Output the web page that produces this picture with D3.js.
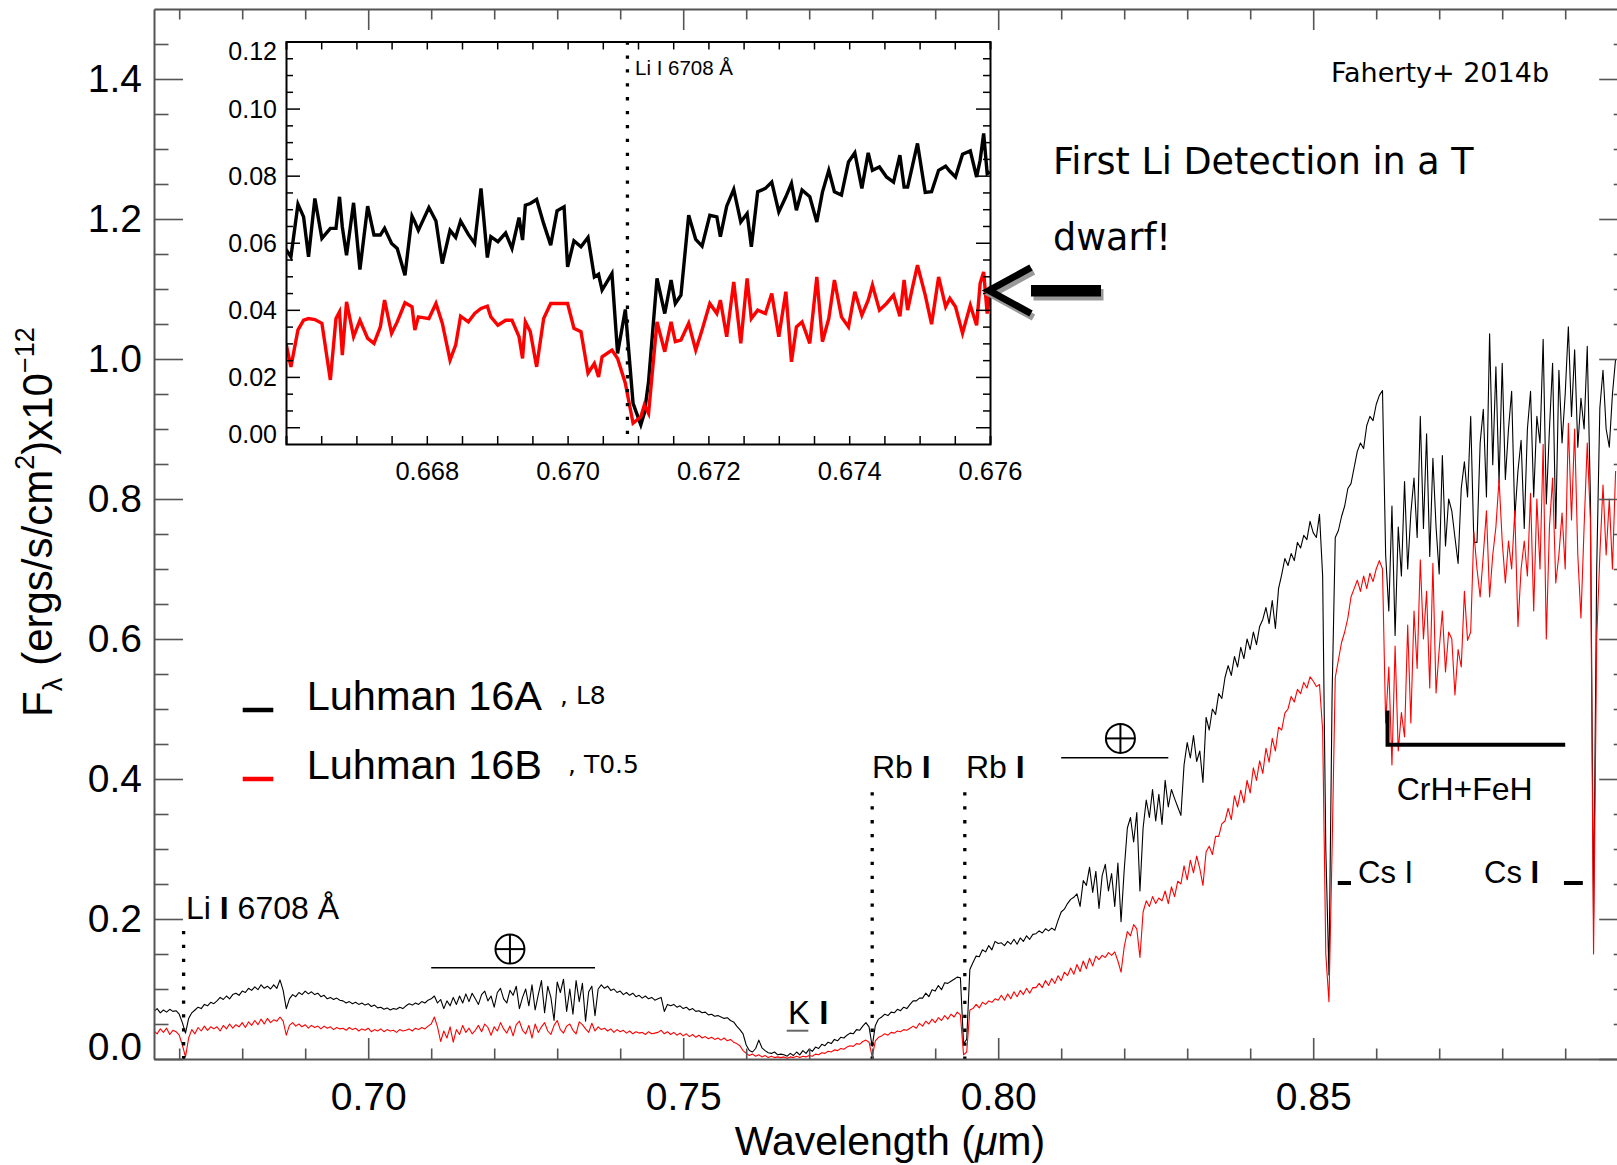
<!DOCTYPE html>
<html>
<head>
<meta charset="utf-8">
<script src="https://cdn.jsdelivr.net/npm/d3@7"></script>
<style>
  body { margin: 0; background: #fff; }
  svg { display: block; }
  text { font-family: "Liberation Sans", Arial, Helvetica, sans-serif; fill: #000; }
</style>
</head>
<body>
<div id="chart"></div>
<script>
// Spectrum is sampled on a regular wavelength grid (start + step, like CRVAL/CDELT)
const waveStart = 0.666;
const waveStep = 0.0005;

// Luhman 16A (L8), flux x1e-12, one row per 0.01 micron
const fluxA = [
  0.068,0.072,0.066,0.070,0.067,0.071,0.068,0.069,0.064,0.052,0.037,0.058,0.066,0.070,0.074,0.072,0.078,0.076,0.081,0.079,
  0.083,0.088,0.085,0.090,0.086,0.092,0.094,0.091,0.097,0.095,0.101,0.098,0.103,0.099,0.106,0.101,0.104,0.100,0.106,0.101,
  0.113,0.098,0.072,0.086,0.092,0.089,0.095,0.092,0.097,0.093,0.096,0.092,0.094,0.089,0.091,0.086,0.088,0.085,0.087,0.084,
  0.083,0.080,0.082,0.079,0.081,0.078,0.080,0.077,0.079,0.075,0.077,0.073,0.074,0.071,0.073,0.070,0.072,0.071,0.074,0.072,
  0.076,0.079,0.077,0.080,0.078,0.082,0.080,0.084,0.086,0.090,0.080,0.085,0.072,0.083,0.076,0.088,0.078,0.090,0.080,0.093,
  0.082,0.094,0.086,0.078,0.092,0.097,0.083,0.090,0.074,0.095,0.101,0.086,0.080,0.098,0.091,0.104,0.072,0.088,0.100,0.076,
  0.106,0.070,0.092,0.112,0.066,0.104,0.088,0.055,0.110,0.095,0.114,0.068,0.100,0.064,0.112,0.082,0.108,0.054,0.096,0.104,
  0.062,0.100,0.106,0.101,0.104,0.098,0.100,0.095,0.097,0.092,0.095,0.091,0.094,0.089,0.091,0.087,0.090,0.086,0.088,0.084,
  0.086,0.088,0.068,0.078,0.076,0.078,0.074,0.076,0.072,0.074,0.070,0.072,0.068,0.069,0.066,0.067,0.063,0.064,0.061,0.062,
  0.060,0.058,0.059,0.055,0.053,0.047,0.042,0.036,0.020,0.012,0.010,0.015,0.027,0.016,0.012,0.009,0.008,0.010,0.006,0.007,
  0.006,0.004,0.008,0.005,0.010,0.006,0.012,0.008,0.014,0.011,0.017,0.015,0.021,0.019,0.024,0.022,0.028,0.026,0.031,0.030,
  0.034,0.037,0.036,0.042,0.041,0.047,0.052,0.046,0.018,0.048,0.057,0.060,0.064,0.062,0.067,0.066,0.071,0.069,0.074,0.072,
  0.078,0.083,0.083,0.087,0.087,0.094,0.089,0.099,0.097,0.105,0.099,0.109,0.108,0.111,0.114,0.117,0.116,0.022,0.028,0.128,
  0.138,0.147,0.146,0.156,0.153,0.162,0.156,0.168,0.165,0.166,0.162,0.168,0.164,0.171,0.164,0.173,0.168,0.176,0.171,0.178,
  0.179,0.183,0.180,0.186,0.183,0.187,0.184,0.198,0.210,0.214,0.222,0.228,0.231,0.236,0.218,0.255,0.248,0.274,0.238,0.268,
  0.215,0.262,0.278,0.240,0.265,0.218,0.280,0.196,0.270,0.330,0.345,0.310,0.352,0.240,0.330,0.370,0.345,0.385,0.340,0.378,
  0.335,0.398,0.360,0.385,0.372,0.360,0.348,0.420,0.452,0.430,0.462,0.425,0.440,0.395,0.488,0.470,0.500,0.492,0.522,0.515,
  0.545,0.562,0.548,0.575,0.560,0.588,0.572,0.600,0.585,0.610,0.592,0.618,0.628,0.645,0.622,0.655,0.615,0.672,0.692,0.715,
  0.705,0.722,0.712,0.738,0.730,0.748,0.742,0.768,0.752,0.745,0.778,0.690,0.300,0.120,0.520,0.745,0.755,0.775,0.790,0.815,
  0.822,0.845,0.868,0.880,0.872,0.905,0.918,0.912,0.935,0.948,0.955,0.720,0.640,0.790,0.605,0.760,0.690,0.825,0.700,0.780,
  0.830,0.745,0.918,0.758,0.893,0.718,0.858,0.760,0.693,0.862,0.733,0.800,0.783,0.745,0.708,0.815,0.853,0.803,0.918,0.738,
  0.738,0.880,0.928,0.803,1.036,0.849,0.989,0.823,0.994,0.828,0.900,0.954,0.773,0.840,0.884,0.758,0.900,0.954,0.803,0.918,
  0.880,1.028,0.793,0.900,0.994,0.758,0.984,0.880,0.950,1.046,0.918,1.013,0.874,0.944,0.900,1.018,0.803,0.200,0.700,0.930,
  0.984,0.900,0.874,0.950,1.000
];

// Luhman 16B (T0.5)
const fluxB = [
  0.040,0.036,0.043,0.038,0.044,0.035,0.041,0.039,0.034,0.020,0.003,0.030,0.042,0.036,0.045,0.040,0.047,0.041,0.046,0.043,
  0.046,0.040,0.048,0.043,0.050,0.044,0.049,0.046,0.052,0.045,0.053,0.048,0.055,0.049,0.057,0.050,0.058,0.052,0.056,0.054,
  0.060,0.054,0.034,0.048,0.052,0.047,0.050,0.046,0.049,0.044,0.048,0.045,0.047,0.043,0.047,0.044,0.046,0.042,0.045,0.043,
  0.044,0.041,0.045,0.042,0.044,0.040,0.043,0.041,0.044,0.039,0.042,0.040,0.043,0.039,0.042,0.040,0.041,0.038,0.042,0.040,
  0.041,0.043,0.040,0.044,0.042,0.045,0.043,0.047,0.050,0.060,0.046,0.025,0.040,0.030,0.046,0.024,0.042,0.035,0.048,0.038,
  0.044,0.036,0.041,0.048,0.039,0.050,0.045,0.034,0.046,0.040,0.052,0.043,0.037,0.047,0.033,0.049,0.054,0.041,0.036,0.048,
  0.030,0.050,0.038,0.046,0.052,0.040,0.035,0.048,0.055,0.042,0.037,0.047,0.050,0.041,0.036,0.053,0.049,0.043,0.038,0.051,
  0.040,0.046,0.042,0.044,0.040,0.043,0.038,0.042,0.039,0.041,0.037,0.040,0.036,0.039,0.037,0.038,0.035,0.039,0.036,0.037,
  0.038,0.041,0.036,0.039,0.035,0.038,0.034,0.037,0.033,0.036,0.032,0.035,0.031,0.034,0.030,0.032,0.029,0.031,0.028,0.030,
  0.027,0.030,0.026,0.028,0.024,0.022,0.019,0.012,0.008,0.005,0.007,0.004,0.006,0.003,0.005,0.002,0.004,0.002,0.003,0.002,
  0.003,0.001,0.003,0.002,0.004,0.002,0.004,0.003,0.005,0.004,0.007,0.006,0.009,0.008,0.011,0.010,0.013,0.012,0.015,0.014,
  0.017,0.019,0.018,0.022,0.021,0.025,0.027,0.024,0.003,0.026,0.031,0.033,0.036,0.034,0.038,0.037,0.040,0.039,0.042,0.041,
  0.044,0.047,0.044,0.051,0.047,0.054,0.050,0.057,0.052,0.059,0.055,0.062,0.057,0.064,0.060,0.067,0.063,0.006,0.010,0.070,
  0.072,0.078,0.073,0.081,0.078,0.083,0.081,0.086,0.084,0.091,0.084,0.093,0.086,0.096,0.089,0.098,0.092,0.101,0.094,0.102,
  0.102,0.108,0.102,0.112,0.105,0.115,0.108,0.119,0.112,0.124,0.119,0.130,0.121,0.135,0.125,0.140,0.129,0.144,0.133,0.147,
  0.142,0.148,0.145,0.152,0.148,0.153,0.140,0.124,0.160,0.182,0.176,0.192,0.186,0.145,0.210,0.226,0.218,0.232,0.222,0.230,
  0.226,0.240,0.222,0.246,0.232,0.254,0.250,0.276,0.256,0.284,0.266,0.290,0.272,0.248,0.296,0.304,0.292,0.318,0.318,0.336,
  0.340,0.358,0.342,0.376,0.360,0.384,0.366,0.398,0.380,0.416,0.398,0.426,0.408,0.444,0.424,0.458,0.440,0.474,0.470,0.494,
  0.500,0.518,0.510,0.528,0.522,0.538,0.530,0.546,0.540,0.532,0.535,0.470,0.150,0.082,0.300,0.545,0.570,0.595,0.610,0.630,
  0.660,0.672,0.684,0.668,0.690,0.672,0.694,0.682,0.700,0.712,0.700,0.480,0.560,0.420,0.590,0.440,0.495,0.460,0.620,0.480,
  0.640,0.558,0.713,0.600,0.668,0.530,0.708,0.523,0.585,0.640,0.553,0.610,0.600,0.520,0.585,0.560,0.668,0.598,0.610,0.753,
  0.700,0.660,0.720,0.783,0.660,0.720,0.760,0.828,0.740,0.680,0.740,0.700,0.783,0.618,0.700,0.740,0.690,0.808,0.640,0.800,
  0.700,0.878,0.600,0.760,0.830,0.680,0.720,0.780,0.700,0.908,0.770,0.900,0.720,0.630,0.760,0.880,0.770,0.150,0.600,0.720,
  0.820,0.720,0.800,0.700,0.840
];

// Inset: zoom on the Li I line
const insetWave = [
  0.66600,0.66607,0.66617,0.66625,0.66632,0.66641,0.66651,0.66663,0.66671,0.66676,0.66680,0.66686,0.66696,0.66705,0.66716,
  0.66725,0.66734,0.66740,0.66750,0.66758,0.66769,0.66779,0.66783,0.66788,0.66803,0.66813,0.66822,0.66833,0.66841,0.66848,
  0.66859,0.66868,0.66877,0.66886,0.66891,0.66901,0.66912,0.66921,0.66931,0.66936,0.66940,0.66947,0.66956,0.66966,0.66976,
  0.66985,0.66995,0.67000,0.67009,0.67019,0.67029,0.67038,0.67044,0.67049,0.67063,0.67071,0.67082,0.67093,0.67104,0.67109,
  0.67115,0.67127,0.67138,0.67147,0.67153,0.67161,0.67172,0.67182,0.67191,0.67202,0.67212,0.67217,0.67226,0.67236,0.67246,
  0.67255,0.67261,0.67270,0.67281,0.67290,0.67300,0.67310,0.67318,0.67325,0.67333,0.67344,0.67354,0.67362,0.67371,0.67379,
  0.67389,0.67399,0.67408,0.67418,0.67427,0.67433,0.67443,0.67453,0.67463,0.67472,0.67478,0.67483,0.67490,0.67497,0.67508,
  0.67517,0.67527,0.67537,0.67543,0.67551,0.67561,0.67572,0.67581,0.67586,0.67591,0.67596,0.67600
];
const insetFluxA = [
  0.0580,0.0558,0.0715,0.0677,0.0558,0.0732,0.0613,0.0643,0.0643,0.0737,0.0647,0.0563,0.0719,0.0520,0.0709,
  0.0623,0.0623,0.0643,0.0598,0.0583,0.0503,0.0679,0.0662,0.0637,0.0705,0.0665,0.0538,0.0637,0.0616,0.0665,
  0.0625,0.0598,0.0762,0.0556,0.0618,0.0603,0.0629,0.0583,0.0675,0.0608,0.0712,0.0717,0.0729,0.0657,0.0593,
  0.0695,0.0707,0.0528,0.0606,0.0588,0.0616,0.0498,0.0506,0.0459,0.0508,0.0270,0.0401,0.0121,0.0057,0.0092,
  0.0186,0.0494,0.0389,0.0489,0.0419,0.0444,0.0682,0.0610,0.0590,0.0682,0.0677,0.0618,0.0709,0.0759,0.0662,
  0.0687,0.0588,0.0752,0.0762,0.0781,0.0692,0.0737,0.0777,0.0697,0.0757,0.0737,0.0662,0.0751,0.0816,0.0752,
  0.0742,0.0841,0.0868,0.0762,0.0868,0.0816,0.0826,0.0796,0.0781,0.0861,0.0766,0.0766,0.0831,0.0896,0.0750,
  0.0752,0.0816,0.0828,0.0813,0.0796,0.0864,0.0874,0.0796,0.0846,0.0926,0.0806,0.0811
];
const insetFluxB = [
  0.0300,0.0230,0.0340,0.0369,0.0374,0.0371,0.0360,0.0191,0.0374,0.0394,0.0265,0.0424,0.0320,0.0369,0.0315,
  0.0300,0.0349,0.0429,0.0330,0.0364,0.0421,0.0409,0.0340,0.0379,0.0374,0.0419,0.0360,0.0250,0.0295,0.0381,
  0.0364,0.0389,0.0404,0.0411,0.0379,0.0354,0.0369,0.0369,0.0320,0.0255,0.0364,0.0335,0.0230,0.0374,0.0419,
  0.0419,0.0419,0.0419,0.0345,0.0335,0.0211,0.0240,0.0200,0.0260,0.0280,0.0255,0.0181,0.0062,0.0081,0.0116,
  0.0091,0.0364,0.0275,0.0364,0.0305,0.0310,0.0360,0.0280,0.0340,0.0419,0.0389,0.0429,0.0320,0.0483,0.0300,
  0.0494,0.0374,0.0399,0.0389,0.0449,0.0320,0.0454,0.0245,0.0349,0.0364,0.0300,0.0498,0.0305,0.0374,0.0489,
  0.0379,0.0349,0.0454,0.0384,0.0429,0.0474,0.0399,0.0419,0.0444,0.0381,0.0489,0.0399,0.0468,0.0533,0.0444,
  0.0357,0.0498,0.0409,0.0434,0.0409,0.0330,0.0414,0.0354,0.0479,0.0513,0.0389,0.0469
];

// ticks
const xMajorTicks = [0.70, 0.75, 0.80, 0.85];
const xMinorTicks = [0.67,0.68,0.69,0.71,0.72,0.73,0.74,0.76,0.77,0.78,0.79,0.81,0.82,0.83,0.84,0.86,0.87,0.88,0.89];
const yMajorTicks = [0.0,0.2,0.4,0.6,0.8,1.0,1.2,1.4];
const yMinorTicks = [0.05,0.10,0.15,0.25,0.30,0.35,0.45,0.50,0.55,0.65,0.70,0.75,0.85,0.90,0.95,1.05,1.10,1.15,1.25,1.30,1.35,1.45];
const insetXLabels = [0.668, 0.670, 0.672, 0.674, 0.676];
const insetXMinor = [0.6665,0.667,0.6675,0.668,0.6685,0.669,0.6695,0.670,0.6705,0.671,0.6715,0.672,0.6725,0.673,0.6735,0.674,0.6745,0.675,0.6755];
const insetYMajor = [0.005,0.02,0.04,0.06,0.08,0.10];
const insetYMinor = [0.01,0.015,0.025,0.03,0.035,0.045,0.05,0.055,0.065,0.07,0.075,0.085,0.09,0.095,0.105,0.11,0.115];
const insetYLabels = ["0.00","0.02","0.04","0.06","0.08","0.10","0.12"];
const insetYLabelAt = [0.003,0.02,0.04,0.06,0.08,0.10,0.1172];

// line identifications (wavelength, top of the dotted marker in flux units)
const lineMarks = [
  {wave: 0.6707, top: 0.183},
  {wave: 0.7800, top: 0.381},
  {wave: 0.7947, top: 0.381}
];
const insetLiWave = 0.67085;

const width = 1617, height = 1165;
const svg = d3.select("#chart").append("svg")
  .attr("width", width).attr("height", height);
svg.append("rect").attr("width", width).attr("height", height).attr("fill", "#fff");

const x = d3.scaleLinear().domain([0.666, 0.9]).range([154, 1628.2]);
const y = d3.scaleLinear().domain([0, 1.5]).range([1059, 9]);

const wave = fluxA.map((_, i) => waveStart + i * waveStep);
const specA = fluxA.map((f, i) => [wave[i], f]);
const specB = fluxB.map((f, i) => [wave[i], f]);

svg.append("clipPath").attr("id", "plotclip").append("rect")
  .attr("x", 154).attr("y", 9).attr("width", 1474).attr("height", 1050);

const line = d3.line().x(d => x(d[0])).y(d => y(d[1]));
const plot = svg.append("g").attr("clip-path", "url(#plotclip)");
plot.append("path").datum(specA).attr("d", line)
  .attr("fill", "none").attr("stroke", "#000").attr("stroke-width", 1.1).attr("stroke-linejoin", "round");
plot.append("path").datum(specB).attr("d", line)
  .attr("fill", "none").attr("stroke", "#ff0000").attr("stroke-width", 1.1).attr("stroke-linejoin", "round");

// axes
const axisColor = "#555";
function styleAxis(g, domainW, tickW, color) {
  g.select(".domain").attr("stroke", color).attr("stroke-width", domainW);
  g.selectAll(".tick line").attr("stroke", color).attr("stroke-width", tickW);
  g.attr("font-family", null).attr("font-size", null);
}

const gxb = svg.append("g").attr("transform", `translate(0,${y(0)})`)
  .call(d3.axisBottom(x).tickValues(xMajorTicks).tickSizeInner(-21).tickSizeOuter(0)
    .tickPadding(23).tickFormat(d3.format(".2f")));
styleAxis(gxb, 2, 1.6, axisColor);
gxb.selectAll(".tick text").attr("font-size", 39);
const gxbm = svg.append("g").attr("transform", `translate(0,${y(0)})`)
  .call(d3.axisBottom(x).tickValues(xMinorTicks).tickSize(-10.5).tickFormat(""));
styleAxis(gxbm, 0, 1.6, axisColor);

const gxt = svg.append("g").attr("transform", `translate(0,${y(1.5)})`)
  .call(d3.axisTop(x).tickValues(xMajorTicks).tickSizeInner(-21).tickSizeOuter(0).tickFormat(""));
styleAxis(gxt, 2, 1.6, axisColor);
const gxtm = svg.append("g").attr("transform", `translate(0,${y(1.5)})`)
  .call(d3.axisTop(x).tickValues(xMinorTicks).tickSize(-10.5).tickFormat(""));
styleAxis(gxtm, 0, 1.6, axisColor);

const gyl = svg.append("g").attr("transform", `translate(${x(0.666)},0)`)
  .call(d3.axisLeft(y).tickValues(yMajorTicks).tickSizeInner(-29).tickSizeOuter(0)
    .tickPadding(12).tickFormat(d3.format(".1f")));
styleAxis(gyl, 2, 1.6, axisColor);
gyl.selectAll(".tick text").attr("font-size", 39).filter(d => d === 0).attr("dy", "0em");
const gylm = svg.append("g").attr("transform", `translate(${x(0.666)},0)`)
  .call(d3.axisLeft(y).tickValues(yMinorTicks).tickSize(-14.5).tickFormat(""));
styleAxis(gylm, 0, 1.6, axisColor);

const gyr = svg.append("g").attr("transform", `translate(${x(0.9)},0)`)
  .call(d3.axisRight(y).tickValues(yMajorTicks).tickSizeInner(-29).tickSizeOuter(0).tickFormat(""));
styleAxis(gyr, 2, 1.6, axisColor);
const gyrm = svg.append("g").attr("transform", `translate(${x(0.9)},0)`)
  .call(d3.axisRight(y).tickValues(yMinorTicks).tickSize(-14.5).tickFormat(""));
styleAxis(gyrm, 0, 1.6, axisColor);

// axis titles
svg.append("text").attr("x", 890).attr("y", 1155).attr("text-anchor", "middle")
  .attr("font-size", 41)
  .call(t => {
    t.append("tspan").text("Wavelength (");
    t.append("tspan").attr("font-style", "italic").text("\u03bc");
    t.append("tspan").text("m)");
  });

const ylab = svg.append("text").attr("transform", "translate(52,717) rotate(-90)").attr("font-size", 42);
ylab.append("tspan").text("F");
ylab.append("tspan").attr("font-size", 27).attr("dy", 10).text("\u03bb");
ylab.append("tspan").attr("dy", -10).attr("dx", 12).text("(ergs/s/cm");
ylab.append("tspan").attr("font-size", 27).attr("dy", -18).text("2");
ylab.append("tspan").attr("dy", 18).text(")x10");
ylab.append("tspan").attr("font-size", 27).attr("dy", -18).text("\u221212");

// dotted line markers
plot.selectAll(".lmark").data(lineMarks).join("line")
  .attr("x1", d => x(d.wave)).attr("x2", d => x(d.wave))
  .attr("y1", d => y(d.top)).attr("y2", y(0))
  .attr("stroke", "#000").attr("stroke-width", 3.3).attr("stroke-dasharray", "3.3 10.6");

// annotations
function label(xp, yp, size, parts, family) {
  const t = svg.append("text").attr("x", xp).attr("y", yp).attr("font-size", size);
  if (family) t.style("font-family", family);
  parts.forEach(p => {
    const s = t.append("tspan").text(p[0]);
    if (p[1]) s.attr("font-weight", "bold");
  });
  return t;
}
label(186, 919, 32, [["Li "], ["I", true], [" 6708 \u00c5"]]);
label(872, 778, 32, [["Rb "], ["I", true]]);
label(966, 778, 32, [["Rb "], ["I", true]]);
label(788, 1024, 33, [["K "], ["I", true]]);
svg.append("line").attr("x1", 786.7).attr("x2", 808.3).attr("y1", 1030.7).attr("y2", 1030.7)
  .attr("stroke", "#666").attr("stroke-width", 2);
label(1396.7, 800, 32, [["CrH+FeH"]]);
label(1358, 883, 31, [["Cs I"]]);
label(1484, 883, 31, [["Cs "], ["I", true]]);

// telluric bands, CrH+FeH bracket, Cs markers (wavelength / flux units)
const telluric = [
  {w0: 0.710, w1: 0.736, f: 0.1304, cx: 0.7225, cf: 0.157},
  {w0: 0.810, w1: 0.827, f: 0.4304, cx: 0.8194, cf: 0.458}
];
telluric.forEach(b => {
  svg.append("line").attr("x1", x(b.w0)).attr("x2", x(b.w1)).attr("y1", y(b.f)).attr("y2", y(b.f))
    .attr("stroke", "#000").attr("stroke-width", 1.5);
  const cx = x(b.cx), cy = y(b.cf), r = 14.5;
  svg.append("circle").attr("cx", cx).attr("cy", cy).attr("r", r)
    .attr("fill", "none").attr("stroke", "#000").attr("stroke-width", 2);
  svg.append("line").attr("x1", cx - r).attr("x2", cx + r).attr("y1", cy).attr("y2", cy)
    .attr("stroke", "#000").attr("stroke-width", 2);
  svg.append("line").attr("x1", cx).attr("x2", cx).attr("y1", cy - r).attr("y2", cy + r)
    .attr("stroke", "#000").attr("stroke-width", 2);
});
svg.append("path")
  .attr("d", `M${x(0.8618)},${y(0.498)} L${x(0.8618)},${y(0.449)} L${x(0.890)},${y(0.449)}`)
  .attr("fill", "none").attr("stroke", "#000").attr("stroke-width", 4);
[[0.8539, 0.8560], [0.8898, 0.8928]].forEach(d => {
  svg.append("line").attr("x1", x(d[0])).attr("x2", x(d[1])).attr("y1", y(0.2514)).attr("y2", y(0.2514))
    .attr("stroke", "#000").attr("stroke-width", 4);
});

// legend
const legend = [
  {name: "Luhman 16A", type: ", L8", color: "#000", yy: 710},
  {name: "Luhman 16B", type: ", T0.5", color: "#ff0000", yy: 779}
];
legend.forEach(d => {
  svg.append("line").attr("x1", 242.7).attr("x2", 273.3).attr("y1", d.yy).attr("y2", d.yy)
    .attr("stroke", d.color).attr("stroke-width", 4.5);
  svg.append("text").attr("x", 306.7).attr("y", d.yy).attr("font-size", 41.5).text(d.name);
});
label(560, 704, 25, [[legend[0].type]], "DejaVu Sans");
label(568, 773, 25, [[legend[1].type]], "DejaVu Sans");

// notes
label(1331, 81.7, 27, [["Faherty+ 2014b"]], "DejaVu Sans");
label(1053, 174, 36.5, [["First Li Detection in a T"]], "DejaVu Sans");
label(1053, 250, 36.5, [["dwarf!"]], "DejaVu Sans");

// arrow with grey shadow
function arrow(g, dx, dy, color) {
  g.append("polyline").attr("points", `${1031 + dx},${267.5 + dy} ${989 + dx},${290.5 + dy} ${1031 + dx},${313.5 + dy}`)
    .attr("fill", "none").attr("stroke", color).attr("stroke-width", 7).attr("stroke-linejoin", "miter");
  g.append("rect").attr("x", 1031 + dx).attr("y", 285 + dy).attr("width", 70).attr("height", 11.5).attr("fill", color);
}

// inset
const xi = d3.scaleLinear().domain([0.666, 0.676]).range([286, 990]);
const yi = d3.scaleLinear().domain([0, 0.12]).range([444, 41.5]);
const inset = svg.append("g");
inset.append("rect").attr("x", 286).attr("y", 41.5).attr("width", 704).attr("height", 402.5).attr("fill", "#fff");
svg.append("clipPath").attr("id", "insetclip").append("rect")
  .attr("x", 286).attr("y", 41.5).attr("width", 704).attr("height", 402.5);
const il = d3.line().x((d, i) => xi(insetWave[i])).y(d => yi(d));
const ip = inset.append("g").attr("clip-path", "url(#insetclip)");
ip.append("path").datum(insetFluxA).attr("d", il)
  .attr("fill", "none").attr("stroke", "#000").attr("stroke-width", 3.4).attr("stroke-linejoin", "miter");
ip.append("path").datum(insetFluxB).attr("d", il)
  .attr("fill", "none").attr("stroke", "#ff0000").attr("stroke-width", 3.4).attr("stroke-linejoin", "miter");
ip.append("line").attr("x1", xi(insetLiWave)).attr("x2", xi(insetLiWave)).attr("y1", yi(0.12)).attr("y2", yi(0))
  .attr("stroke", "#000").attr("stroke-width", 3.3).attr("stroke-dasharray", "3.3 10.6");
label(635, 75, 20.5, [["Li I 6708 \u00c5"]]);

const gib = inset.append("g").attr("transform", `translate(0,${yi(0)})`)
  .call(d3.axisBottom(xi).tickValues(insetXMinor).tickSize(-8).tickFormat(""));
styleAxis(gib, 2, 1.5, "#000");
const gibl = inset.append("g").attr("transform", `translate(0,${yi(0)})`)
  .call(d3.axisBottom(xi).tickValues(insetXLabels).tickSize(0).tickPadding(18).tickFormat(d3.format(".3f")));
styleAxis(gibl, 0, 0, "#000");
gibl.selectAll(".tick text").attr("font-size", 25.5);
const git = inset.append("g").attr("transform", `translate(0,${yi(0.12)})`)
  .call(d3.axisTop(xi).tickValues(insetXMinor).tickSize(-8).tickFormat(""));
styleAxis(git, 2, 1.5, "#000");
[[286, d3.axisLeft], [990, d3.axisRight]].forEach(([xp, ax]) => {
  const gm = inset.append("g").attr("transform", `translate(${xp},0)`)
    .call(ax(yi).tickValues(insetYMajor).tickSizeInner(-14).tickSizeOuter(0).tickFormat(""));
  styleAxis(gm, 2, 1.5, "#000");
  const gn = inset.append("g").attr("transform", `translate(${xp},0)`)
    .call(ax(yi).tickValues(insetYMinor).tickSize(-7).tickFormat(""));
  styleAxis(gn, 0, 1.5, "#000");
});
inset.selectAll(".ylab").data(insetYLabels).join("text")
  .attr("x", 277).attr("y", (d, i) => yi(insetYLabelAt[i])).attr("dy", "0.36em")
  .attr("text-anchor", "end").attr("font-size", 25).text(d => d);

arrow(svg, 2.5, 4, "#999");
arrow(svg, 0, 0, "#000");
</script>
</body>
</html>
